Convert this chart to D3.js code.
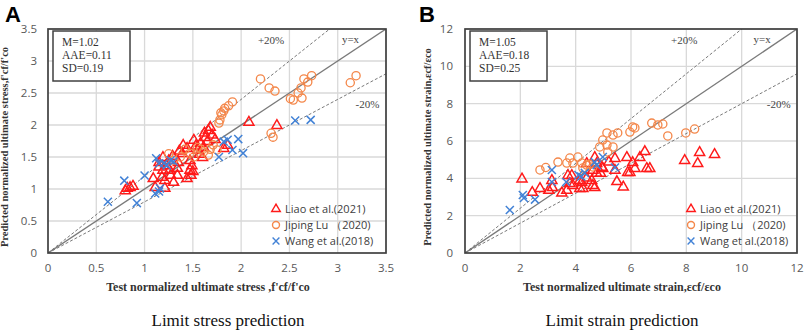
<!DOCTYPE html>
<html><head><meta charset="utf-8">
<script src="https://cdn.jsdelivr.net/npm/d3@7"></script>
<style>
body{margin:0;background:#fff;}
svg{display:block;}
</style></head>
<body>
<svg id="chart" width="809" height="331"></svg>
<script>
// ---------- DATA ----------
const seriesNames = ["Liao et al.(2021)", "Jiping Lu （2020)", "Wang et al.(2018)"];
const ticksA = [0, 0.5, 1, 1.5, 2, 2.5, 3, 3.5];
const ticksB = [0, 2, 4, 6, 8, 10, 12];
const statsA = ["M=1.02", "AAE=0.11", "SD=0.19"];
const statsB = ["M=1.05", "AAE=0.18", "SD=0.25"];

const liaoA = [[0.80,0.98],[0.82,1.02],[0.85,1.03],[0.88,1.05],[1.09,1.17],[1.11,1.03],[1.18,1.19],[1.21,1.02],[1.19,1.50],[1.23,1.37],[1.19,1.30],[1.27,1.22],[1.21,1.14],[1.34,1.33],[1.34,1.22],[1.30,1.11],[1.40,1.69],[1.44,1.64],[1.39,1.56],[1.47,1.30],[1.44,1.17],[1.51,1.77],[1.58,1.72],[1.63,1.81],[1.66,1.92],[1.55,1.61],[1.61,1.66],[1.68,1.97],[1.82,1.64],[1.86,1.69],[1.47,1.45],[1.49,1.37],[2.08,2.05],[2.37,2.00],[1.25,1.45],[1.29,1.52],[1.35,1.42],[1.15,1.35],[1.48,1.22],[1.50,1.28],[1.60,1.50],[1.70,1.85],[1.73,1.78],[1.65,1.75],[1.53,1.68],[1.57,1.55],[1.36,1.60],[1.15,1.42],[1.62,1.88],[1.26,1.30]];
const jipingA = [[2.20,2.72],[2.29,2.58],[2.35,2.53],[2.65,2.72],[2.73,2.77],[2.69,2.67],[2.62,2.58],[2.59,2.50],[2.54,2.39],[2.51,2.41],[2.63,2.42],[3.13,2.66],[3.19,2.77],[1.91,2.36],[1.87,2.30],[1.83,2.26],[1.82,2.22],[1.80,2.16],[1.78,2.08],[1.77,2.03],[2.31,1.87],[2.33,1.81],[1.79,2.19],[1.71,1.69],[1.75,1.61],[1.47,1.56],[1.37,1.50],[1.30,1.45],[1.51,1.50],[1.61,1.58],[1.66,1.53],[1.25,1.55],[1.42,1.62],[1.55,1.65],[1.68,1.62],[1.58,1.62]];
const wangA = [[0.62,0.80],[0.79,1.13],[0.92,0.78],[1.00,1.21],[1.11,0.93],[1.15,0.96],[1.16,1.01],[1.20,1.40],[1.23,1.37],[1.27,1.45],[1.30,1.43],[1.82,1.74],[1.86,1.77],[1.97,1.78],[2.02,1.56],[1.91,1.61],[1.77,1.50],[2.56,2.07],[2.72,2.08],[1.12,1.48],[1.15,1.40]];

const liaoB = [[2.06,3.99],[2.43,3.27],[2.71,3.48],[3.03,3.38],[3.16,3.53],[3.14,3.91],[3.50,3.24],[3.68,3.38],[3.72,4.18],[3.79,3.75],[3.90,3.64],[4.15,3.48],[4.15,3.91],[4.22,3.80],[4.40,4.04],[4.58,3.91],[4.62,3.64],[4.69,3.53],[4.62,4.45],[4.76,4.29],[4.76,4.82],[4.95,4.61],[4.98,4.55],[4.69,5.14],[5.42,5.09],[5.42,4.45],[5.49,3.85],[5.72,3.56],[5.85,5.14],[5.88,4.34],[6.06,4.87],[6.14,4.55],[5.96,4.34],[6.32,5.14],[6.50,5.46],[6.57,4.55],[6.68,4.55],[7.94,4.98],[8.48,5.41],[8.41,4.82],[9.02,5.30],[4.26,3.48],[3.86,4.18],[4.40,4.82],[5.20,4.90],[4.90,4.30]];
const jipingB = [[2.71,4.45],[2.92,4.58],[3.36,4.87],[3.68,4.82],[3.79,5.09],[4.08,5.14],[4.22,4.82],[4.40,4.71],[4.62,4.61],[4.26,4.55],[4.98,6.05],[5.13,6.43],[5.35,6.32],[5.52,6.43],[5.13,5.78],[4.87,5.68],[5.35,5.68],[5.16,5.41],[6.06,6.75],[5.96,6.48],[6.14,6.70],[6.75,6.96],[6.97,6.86],[7.15,6.91],[7.33,6.27],[7.98,6.43],[8.30,6.64],[3.90,4.82],[4.50,4.75]];
const wangB = [[1.62,2.30],[2.09,3.11],[2.13,2.95],[2.53,2.86],[3.14,4.45],[3.14,3.80],[3.66,3.80],[4.10,4.18],[4.33,4.29],[4.69,4.87],[4.98,5.14],[5.42,4.58],[4.76,4.71],[4.20,4.10]];

// ---------- DRAW ----------
const svg = d3.select("#chart");
svg.append("rect").attr("width",809).attr("height",331).attr("fill","#fff");
const serif = "'Liberation Serif','DejaVu Serif',serif";
const sans = "'Open Sans','Noto Sans','Liberation Sans',sans-serif";
const RED = "#ff1a1a", ORANGE = "#f4874a", BLUE = "#4282d6";

function drawPanel(o){
  const max = o.ticks[o.ticks.length-1];
  const x = d3.scaleLinear().domain([0,max]).range([o.x0,o.x1]);
  const y = d3.scaleLinear().domain([0,max]).range([o.y0,o.y1]);
  const g = svg.append("g");
  const clipId = "clip"+o.letter;
  svg.append("clipPath").attr("id",clipId).append("rect")
    .attr("x",o.x0).attr("y",o.y1).attr("width",o.x1-o.x0).attr("height",o.y0-o.y1);

  // grid
  g.append("g").selectAll("line").data(o.ticks.slice(1)).join("line")
    .attr("x1",d=>x(d)).attr("x2",d=>x(d)).attr("y1",o.y0).attr("y2",o.y1)
    .attr("stroke","#d9d9d9").attr("stroke-width",1.3);
  g.append("g").selectAll("line").data(o.ticks.slice(1)).join("line")
    .attr("y1",d=>y(d)).attr("y2",d=>y(d)).attr("x1",o.x0).attr("x2",o.x1)
    .attr("stroke","#d9d9d9").attr("stroke-width",1.3);

  // reference lines
  const lg = g.append("g").attr("clip-path",`url(#${clipId})`);
  lg.append("line").attr("x1",x(0)).attr("y1",y(0)).attr("x2",x(max)).attr("y2",y(max))
    .attr("stroke","#7a7a7a").attr("stroke-width",1.4);
  [1.2,0.8].forEach(k=>{
    lg.append("line").attr("x1",x(0)).attr("y1",y(0)).attr("x2",x(max)).attr("y2",y(max*k))
      .attr("stroke","#7a7a7a").attr("stroke-width",1).attr("stroke-dasharray","3,2");
  });

  // tick labels
  g.append("g").selectAll("text").data(o.ticks).join("text")
    .attr("x",d=>x(d)).attr("y",o.y0+19).attr("text-anchor","middle")
    .attr("font-family",sans).attr("font-size",11.5).attr("fill","#595959")
    .text(d=>d);
  g.append("g").selectAll("text").data(o.ticks).join("text")
    .attr("x",o.x0-o.yLabGap).attr("y",d=>y(d)+4).attr("text-anchor","end")
    .attr("font-family",sans).attr("font-size",11.5).attr("fill","#595959")
    .text(d=>d);

  // points
  const pg = g.append("g");
  const tri = d3.symbol().type(d3.symbolTriangle).size(44);
  pg.selectAll("path.l").data(o.liao).join("path")
    .attr("d",tri).attr("transform",d=>`translate(${x(d[0])},${y(d[1])+0.5})`)
    .attr("fill","none").attr("stroke",RED).attr("stroke-width",1.5);
  pg.selectAll("circle").data(o.jiping).join("circle")
    .attr("cx",d=>x(d[0])).attr("cy",d=>y(d[1])).attr("r",4.1)
    .attr("fill","none").attr("stroke",ORANGE).attr("stroke-width",1.3);
  const cross = d3.symbol().type(d3.symbolX).size(44);
  pg.selectAll("path.w").data(o.wang).join("path")
    .attr("d",cross).attr("transform",d=>`translate(${x(d[0])},${y(d[1])})`)
    .attr("fill","none").attr("stroke",BLUE).attr("stroke-width",1.5);

  // frame
  g.append("rect").attr("x",o.x0).attr("y",o.y1).attr("width",o.x1-o.x0).attr("height",o.y0-o.y1)
    .attr("fill","none").attr("stroke","#404040").attr("stroke-width",1.7);

  // stats box
  g.append("rect").attr("x",o.x0+5).attr("y",o.y1+2).attr("width",77).attr("height",50)
    .attr("fill","#fff").attr("stroke","#404040").attr("stroke-width",1.5);
  g.append("g").selectAll("text").data(o.stats).join("text")
    .attr("x",o.x0+14).attr("y",(d,i)=>o.y1+17+i*13)
    .attr("font-family",serif).attr("font-size",11.5).attr("fill","#333")
    .text(d=>d);

  // line labels
  g.append("text").attr("x",x(max*0.66)).attr("y",o.y1+15).attr("text-anchor","middle")
    .attr("font-family",serif).attr("font-size",11).attr("fill","#444").text("+20%");
  g.append("text").attr("x",x(max*0.895)).attr("y",o.y1+14).attr("text-anchor","middle")
    .attr("font-family",serif).attr("font-size",11).attr("fill","#444").text("y=x");
  g.append("text").attr("x",x(max*0.945)).attr("y",o.y1+79).attr("text-anchor","middle")
    .attr("font-family",serif).attr("font-size",11).attr("fill","#444").text("-20%");

  // legend
  const leg = g.append("g");
  const lx = o.legX;
  const ly = [209, 225, 241];
  leg.append("path").attr("d",d3.symbol().type(d3.symbolTriangle).size(32))
    .attr("transform",`translate(${lx},${ly[0]})`).attr("fill","none").attr("stroke",RED).attr("stroke-width",1.4);
  leg.append("circle").attr("cx",lx).attr("cy",ly[1]).attr("r",3.5)
    .attr("fill","none").attr("stroke",ORANGE).attr("stroke-width",1.4);
  leg.append("path").attr("d",d3.symbol().type(d3.symbolX).size(32))
    .attr("transform",`translate(${lx},${ly[2]})`).attr("fill","none").attr("stroke",BLUE).attr("stroke-width",1.4);
  leg.selectAll("text").data(seriesNames).join("text")
    .attr("x",lx+9).attr("y",(d,i)=>ly[i]+4)
    .attr("font-family",sans).attr("font-size",11).attr("fill","#404040")
    .text(d=>d);

  // axis titles
  g.append("text").attr("x",(o.x0+o.x1)/2+o.xTitleDx).attr("y",291).attr("text-anchor","middle")
    .attr("font-family",serif).attr("font-size",12).attr("font-weight","bold").attr("fill","#333")
    .text(o.xTitle);
  g.append("text").attr("transform",`translate(${o.yTitleX},${(o.y0+o.y1)/2+6}) rotate(-90)`)
    .attr("text-anchor","middle")
    .attr("font-family",serif).attr("font-size",10.5).attr("font-weight","bold").attr("fill","#333")
    .text(o.yTitle);

  // panel letter
  svg.append("text").attr("x",o.letterX).attr("y",22)
    .attr("font-family","'Liberation Sans',Arial,sans-serif").attr("font-size",22).attr("font-weight","bold").attr("fill","#000")
    .text(o.letter);

  // caption
  svg.append("text").attr("x",o.capX).attr("y",326).attr("text-anchor","middle")
    .attr("font-family",serif).attr("font-size",17).attr("fill","#111")
    .text(o.caption);
}

drawPanel({letter:"A", letterX:5, x0:48, x1:386, y0:253, y1:29, ticks:ticksA, yLabGap:11,
  liao:liaoA, jiping:jipingA, wang:wangA, stats:statsA, legX:276, xTitleDx:-9,
  xTitle:"Test normalized ultimate stress ,f'cf/f'co",
  yTitle:"Predicted normalized ultimate stress,f'cf/f'co", yTitleX:8,
  caption:"Limit stress prediction", capX:228});
drawPanel({letter:"B", letterX:419, x0:465, x1:797, y0:253, y1:29, ticks:ticksB, yLabGap:12,
  liao:liaoB, jiping:jipingB, wang:wangB, stats:statsB, legX:691, xTitleDx:-9,
  xTitle:"Test normalized ultimate strain,εcf/εco",
  yTitle:"Predicted normalized ultimate strain,εcf/εco", yTitleX:431,
  caption:"Limit strain prediction", capX:622});
</script>
</body></html>
